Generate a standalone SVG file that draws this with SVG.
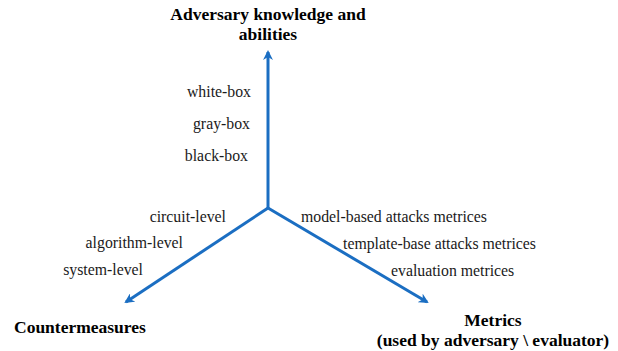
<svg xmlns="http://www.w3.org/2000/svg" width="618" height="351" viewBox="0 0 618 351">
<style>
.t{font-family:"Liberation Serif","Times New Roman",serif;font-size:15.8px;fill:#1a1a1a}
.b{font-family:"Liberation Serif","Times New Roman",serif;font-size:17.5px;font-weight:bold;fill:#000}
.ax{stroke:#1b6ec2;stroke-width:3;fill:none}
</style>
<defs>
<marker id="ah" markerWidth="10" markerHeight="10" refX="8" refY="5" orient="auto" markerUnits="userSpaceOnUse" viewBox="0 0 10 10">
<path d="M0,0 L10,5 L0,10 L3,5 Z" fill="#1b6ec2"/>
</marker>
</defs>
<rect width="618" height="351" fill="#fff"/>
<g id="connectors">
<line class="ax" x1="268" y1="208" x2="268" y2="52" marker-end="url(#ah)"/>
<line class="ax" x1="268" y1="208" x2="126" y2="302" marker-end="url(#ah)"/>
<line class="ax" x1="268" y1="208" x2="427" y2="302" marker-end="url(#ah)"/>
</g>
<g id="adversary">
<text class="b" x="268" y="20" text-anchor="middle">Adversary knowledge and</text>
<text class="b" x="268" y="40" text-anchor="middle">abilities</text>
<text class="t" x="251" y="97" text-anchor="end">white-box</text>
<text class="t" x="250" y="129" text-anchor="end">gray-box</text>
<text class="t" x="248" y="161" text-anchor="end">black-box</text>
</g>
<g id="countermeasures">
<text class="b" x="14" y="333">Countermeasures</text>
<text class="t" x="226" y="222" text-anchor="end">circuit-level</text>
<text class="t" x="183" y="248" text-anchor="end">algorithm-level</text>
<text class="t" x="143" y="275" text-anchor="end">system-level</text>
</g>
<g id="metrics">
<text class="b" x="493" y="326" text-anchor="middle">Metrics</text>
<text class="b" x="493" y="346" text-anchor="middle">(used by adversary \ evaluator)</text>
<text class="t" x="301" y="222">model-based attacks metrices</text>
<text class="t" x="343" y="249">template-base attacks metrices</text>
<text class="t" x="391" y="276">evaluation metrices</text>
</g>
</svg>
